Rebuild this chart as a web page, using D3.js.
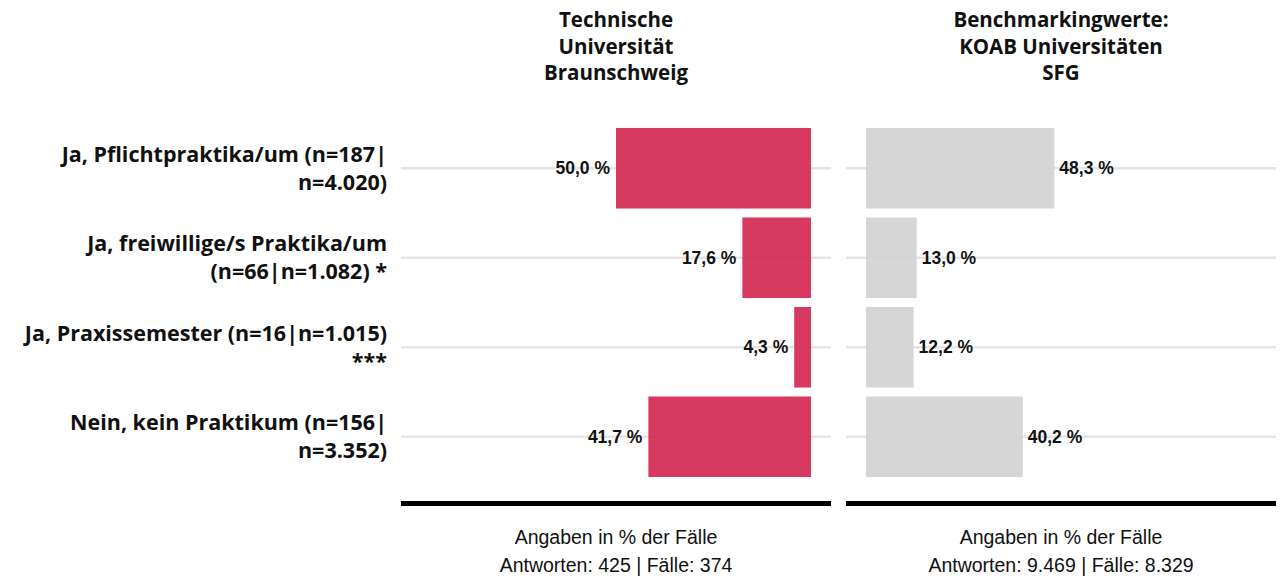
<!DOCTYPE html>
<html>
<head>
<meta charset="utf-8">
<script src="https://cdn.jsdelivr.net/npm/d3@7"></script>
<style>
	body{margin:0;background:#fff;}
	svg{display:block;}
	.cat{font-family:"Open Sans",sans-serif;font-weight:bold;font-size:21.5px;fill:#111;}
	.title{font-family:"Open Sans",sans-serif;font-weight:bold;font-size:20.5px;fill:#111;}
	.val{font-family:"Liberation Sans",Arial,sans-serif;font-weight:bold;font-size:17.5px;fill:#111;}
	.foot{font-family:"Liberation Sans",Arial,sans-serif;font-size:19.5px;fill:#111;}
	.gridline{stroke:#e4e4e4;stroke-width:2.5;}
</style>
</head>
<body>
<div id="chart"></div>
<script>
var categories = ['pflicht','freiwillig','praxis','nein'];
var catLabels = [
	['Ja, Pflichtpraktika/um (n=187|','n=4.020)'],
	['Ja, freiwillige/s Praktika/um','(n=66|n=1.082) *'],
	['Ja, Praxissemester (n=16|n=1.015)','***'],
	['Nein, kein Praktikum (n=156|','n=3.352)']
];
var tuValues = [50.0, 17.6, 4.3, 41.7];
var koabValues = [48.3, 13.0, 12.2, 40.2];
var titles = [
	['Technische','Universität','Braunschweig'],
	['Benchmarkingwerte:','KOAB Universitäten','SFG']
];
var footers = [
	['Angaben in % der Fälle','Antworten: 425 | Fälle: 374'],
	['Angaben in % der Fälle','Antworten: 9.469 | Fälle: 8.329']
];

var W = 1285, H = 581;
var svg = d3.select('#chart').append('svg')
	.attr('width',W).attr('height',H);

var y = d3.scaleBand().domain(categories).range([123.5,481.5])
	.paddingInner(0.1).paddingOuter(0.05);

// two panels: left one grows to the left, right one to the right
var panels = [
	{x0:401, x1:831, values:tuValues, fill:'#d42a55', side:'left',
		x:d3.scaleLinear().domain([0,100]).range([811,421])},
	{x0:846, x1:1276, values:koabValues, fill:'#d3d3d3', side:'right',
		x:d3.scaleLinear().domain([0,100]).range([866,1256])}
];

function fmt(v){return d3.format('.1f')(v).replace('.',',')+' %';}

panels.forEach(function(p,pi){
	var g = svg.append('g');
	var cx = (p.x0+p.x1)/2;

	g.selectAll('.gridline')
		.data(categories).enter()
		.append('line')
		.attr('class','gridline')
		.attr('x1',p.x0).attr('x2',p.x1)
		.attr('y1',function(d){return y(d)+y.bandwidth()/2;})
		.attr('y2',function(d){return y(d)+y.bandwidth()/2;});

	g.selectAll('.bar')
		.data(p.values).enter()
		.append('rect')
		.attr('class','bar')
		.attr('fill',p.fill)
		.attr('fill-opacity',0.93)
		.attr('x',function(d){return Math.min(p.x(0),p.x(d));})
		.attr('width',function(d){return Math.abs(p.x(d)-p.x(0));})
		.attr('y',function(d,i){return y(categories[i]);})
		.attr('height',y.bandwidth());

	g.selectAll('.val')
		.data(p.values).enter()
		.append('text')
		.attr('class','val')
		.attr('x',function(d){return p.side=='left' ? p.x(d)-6 : p.x(d)+5;})
		.attr('y',function(d,i){return y(categories[i])+y.bandwidth()/2;})
		.attr('dy','0.35em')
		.attr('text-anchor',p.side=='left' ? 'end' : 'start')
		.text(fmt);

	// thick baseline
	g.append('rect')
		.attr('x',p.x0).attr('width',p.x1-p.x0)
		.attr('y',501).attr('height',5)
		.attr('fill','#000');

	var t = g.append('text').attr('class','title').attr('text-anchor','middle');
	titles[pi].forEach(function(s,i){
		t.append('tspan').attr('x',cx).attr('y',27+i*26.5).text(s);
	});

	footers[pi].forEach(function(s,i){
		g.append('text').attr('class','foot')
			.attr('x',cx).attr('y',544+i*28)
			.attr('text-anchor','middle')
			.text(s);
	});
});

// category labels on the left
svg.selectAll('.cat')
	.data(categories).enter()
	.append('text')
	.attr('class','cat')
	.attr('text-anchor','end')
	.each(function(d,i){
		var c = y(d)+y.bandwidth()/2;
		var el = d3.select(this);
		catLabels[i].forEach(function(s,j){
			el.append('tspan').attr('x',387)
				.attr('y',c-14+j*28).attr('dy','0.35em').text(s);
		});
	});
</script>
</body>
</html>
